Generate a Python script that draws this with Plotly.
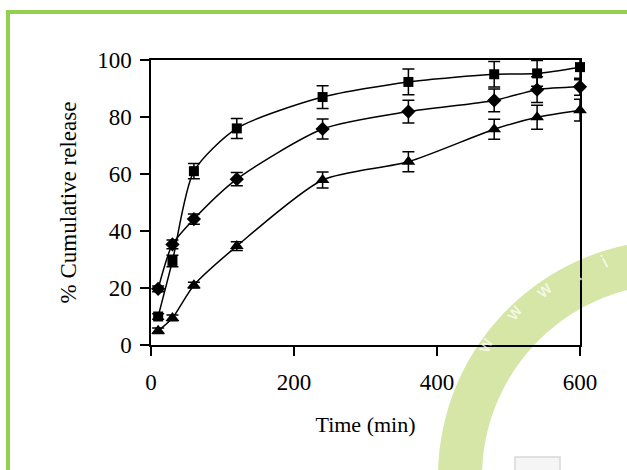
import math
import plotly.graph_objects as go

# ---- data ----
time_min = [10, 30, 60, 120, 240, 360, 480, 540, 600]
square_vals = [10, 29.5, 61, 76, 87, 92.3, 95, 95.3, 97.5]
square_err = [1, 2, 2.7, 3.5, 4, 4.5, 4.5, 4.5, 4.4]
diamond_vals = [19.7, 35.3, 44.2, 58.2, 75.8, 81.9, 85.8, 89.6, 90.6]
diamond_err = [1, 1.5, 1.8, 2.3, 3.5, 4, 4, 4.5, 3]
triangle_vals = [5, 9.5, 21, 34.7, 57.9, 64.3, 75.7, 79.9, 82.4]
triangle_err = [1, 1, 1, 1.5, 2.8, 3.5, 3.5, 4.2, 3.8]
x_ticks = [0, 200, 400, 600]
y_ticks = [0, 20, 40, 60, 80, 100]

W, H = 627, 470
L, R, T, B = 151, 47, 60, 125
PW, PH = W - L - R, H - T - B

def px(x):
    return (x - L) / PW

def py(y):
    return (H - B - y) / PH

FONT = "Liberation Serif, Times New Roman, serif"

fig = go.Figure()

series = [
    (square_vals, square_err, "square", 10),
    (diamond_vals, diamond_err, "diamond", 11),
    (triangle_vals, triangle_err, "triangle-up", 12),
]
for vals, err, sym, size in series:
    fig.add_trace(go.Scatter(
        x=time_min, y=vals, mode="lines+markers",
        line=dict(color="black", width=1.5, shape="spline", smoothing=0.7),
        marker=dict(symbol=sym, size=size, color="black"),
        error_y=dict(type="data", array=err, visible=True, color="black",
                     thickness=1.5, width=6),
        cliponaxis=False, showlegend=False,
    ))

shapes = []
# watermark arc
cx, cy, r_out, r_in = 675, 477, 237, 193
pts_out = [(cx + r_out * math.cos(math.radians(a)), cy - r_out * math.sin(math.radians(a)))
           for a in [180 - i * 2 for i in range(46)]]
pts_in = [(cx + r_in * math.cos(math.radians(a)), cy - r_in * math.sin(math.radians(a)))
          for a in [90 + i * 2 for i in range(46)]]
path = "M " + " L ".join(f"{px(x):.4f},{py(y):.4f}" for x, y in pts_out + pts_in) + " Z"
shapes.append(dict(type="path", xref="paper", yref="paper", path=path,
                   fillcolor="rgb(213,230,166)", line=dict(width=0), layer="below"))
# small grey box
shapes.append(dict(type="rect", xref="paper", yref="paper",
                   x0=px(515), x1=px(560), y0=py(472), y1=py(457),
                   line=dict(color="rgb(215,215,215)", width=1.5),
                   fillcolor="rgb(245,245,245)", layer="below"))
# green frame
shapes.append(dict(type="rect", xref="paper", yref="paper",
                   x0=px(8), x1=px(700), y0=py(540), y1=py(12),
                   line=dict(color="rgb(146,208,80)", width=4), layer="below"))

annotations = []
for (x, y, ch, ang) in [(500, 358, "w", -68), (529, 327, "w", -55), (559, 305, "w", -42),
                        (589, 288, ".", -35), (614, 275, "i", -28)]:
    annotations.append(dict(x=px(x), y=py(y), xref="paper", yref="paper", text=ch,
                            showarrow=False, textangle=ang,
                            font=dict(family="DejaVu Sans", size=18, color="rgba(255,255,255,0.8)")))

fig.update_layout(
    width=W, height=H,
    margin=dict(l=L, r=R, t=T, b=B, pad=0),
    paper_bgcolor="white", plot_bgcolor="rgba(0,0,0,0)",
    font=dict(family=FONT, size=23, color="black"),
    shapes=shapes, annotations=annotations,
    xaxis=dict(range=[0, 600], tickvals=x_ticks, ticks="outside", ticklen=9,
               tickwidth=1.5, tickcolor="black", showline=True, linecolor="black",
               linewidth=1.5, mirror=True, showgrid=False, zeroline=False,
               ticklabelstandoff=7,
               title=dict(text="Time (min)", font=dict(size=22), standoff=22)),
    yaxis=dict(range=[0, 100], tickvals=y_ticks, ticks="outside", ticklen=9,
               tickwidth=1.5, tickcolor="black", showline=True, linecolor="black",
               linewidth=1.5, mirror=True, showgrid=False, zeroline=False,
               ticklabelstandoff=4,
               title=dict(text="% Cumulative release", font=dict(size=23), standoff=14)),
)

fig.write_html("out.html")
